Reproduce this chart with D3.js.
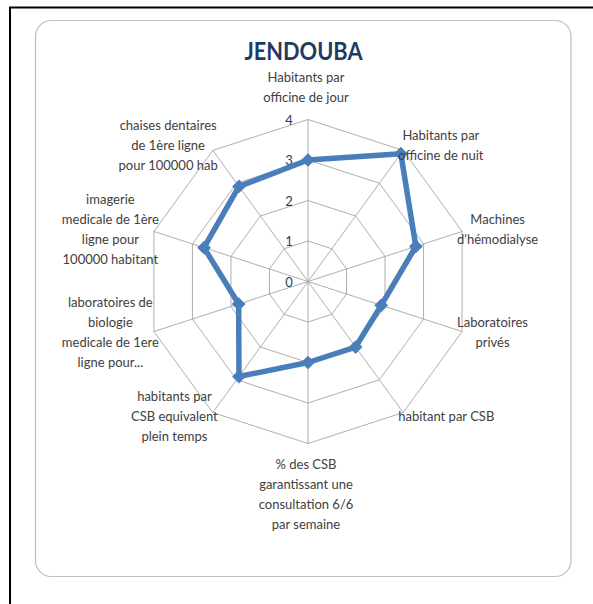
<!DOCTYPE html>
<html>
<head>
<meta charset="utf-8">
<script src="https://cdn.jsdelivr.net/npm/d3@7"></script>
<style>
  body { margin: 0; background: #fff; }
  svg { display: block; }
</style>
</head>
<body>
<svg id="chart"></svg>
<script>
// axes, clockwise from the top
var axisLabels = [
    ['Habitants par', 'officine de jour'],
    ['Habitants par', 'officine de nuit'],
    ['Machines', "d'hémodialyse"],
    ['Laboratoires', 'privés'],
    ['habitant par CSB'],
    ['% des CSB', 'garantissant une', 'consultation 6/6', 'par semaine'],
    ['habitants par', 'CSB equivalent', 'plein temps'],
    ['laboratoires de', 'biologie', 'medicale de 1ere', 'ligne pour...'],
    ['imagerie', 'medicale de 1ère', 'ligne pour', '100000 habitant'],
    ['chaises dentaires', 'de 1ère ligne', 'pour 100000 hab']
]
var values = [3, 3.9, 2.8, 1.9, 2, 2, 2.9, 1.8, 2.7, 2.9]
var ticks = [0, 1, 2, 3, 4]

var width = 593, height = 604
var cx = 308, cy = 281.5, radius = 162

var svg = d3.select('#chart').attr('width', width).attr('height', height)

// outer black frame (runs off the right and bottom edges)
svg.append('rect')
    .attr('x', 10).attr('y', 7.5)
    .attr('width', 620).attr('height', 640)
    .attr('fill', 'none')
    .attr('stroke', '#000')
    .attr('stroke-width', 2)

// chart area
svg.append('rect')
    .attr('x', 35.5).attr('y', 20.5)
    .attr('width', 535.5).attr('height', 556)
    .attr('rx', 16)
    .attr('fill', '#fff')
    .attr('stroke', '#bfbfbf')
    .attr('stroke-width', 1.2)

svg.append('text')
    .text('JENDOUBA')
    .attr('x', 303.5)
    .attr('y', 60)
    .attr('text-anchor', 'middle')
    .attr('font-family', 'Lato')
    .attr('font-weight', 'bold')
    .attr('font-size', '24px')
    .attr('textLength', 118)
    .attr('lengthAdjust', 'spacingAndGlyphs')
    .attr('fill', '#1f3b63')

var n = axisLabels.length
var angle = d3.scaleLinear().domain([0, n]).range([0, 2 * Math.PI])
var r = d3.scaleLinear().domain([0, 4]).range([0, radius])

function pt(i, v) {
    var a = angle(i)
    return [cx + r(v) * Math.sin(a), cy - r(v) * Math.cos(a)]
}

var g = svg.append('g')

// web grid
ticks.slice(1).forEach(function(t) {
    g.append('path')
        .attr('d', d3.line()(d3.range(n).map(function(i) { return pt(i, t) })) + 'Z')
        .attr('fill', 'none')
        .attr('stroke', '#a6a6a6')
        .attr('stroke-width', 0.9)
})

d3.range(n).forEach(function(i) {
    var p = pt(i, 4)
    g.append('line')
        .attr('x1', cx).attr('y1', cy)
        .attr('x2', p[0]).attr('y2', p[1])
        .attr('stroke', '#a6a6a6')
        .attr('stroke-width', 0.9)
})

// tick labels on the top axis
g.selectAll('.tick')
    .data(ticks)
    .enter().append('text')
    .attr('class', 'tick')
    .text(function(d) { return d })
    .attr('x', cx - 19)
    .attr('y', function(d) { return cy - r(d) + 5 })
    .attr('text-anchor', 'middle')
    .attr('font-family', 'Lato')
    .attr('font-size', '13px')
    .attr('fill', '#243f60')

// data series
g.append('path')
    .attr('d', d3.line()(values.map(function(v, i) { return pt(i, v) })) + 'Z')
    .attr('fill', 'none')
    .attr('stroke', '#4a7ebb')
    .attr('stroke-width', 5.5)
    .attr('stroke-linejoin', 'round')

g.selectAll('.marker')
    .data(values)
    .enter().append('path')
    .attr('class', 'marker')
    .attr('d', d3.symbol().type(d3.symbolDiamond2).size(120))
    .attr('transform', function(v, i) { var p = pt(i, v); return 'translate(' + p[0] + ',' + p[1] + ')' })
    .attr('fill', '#4a7ebb')

// axis labels
var lineH = 20
axisLabels.forEach(function(lines, i) {
    var a = angle(i)
    var p = pt(i, 4)
    var s = Math.sin(a), c = Math.cos(a)
    var t = g.append('text')
        .attr('font-family', 'Lato')
        .attr('font-size', '13px')
        .attr('fill', '#404040')
        .attr('text-anchor', 'middle')
    lines.forEach(function(l) { t.append('tspan').text(l) })
    var w = d3.max(t.selectAll('tspan').nodes(), function(node) { return node.getComputedTextLength() })
    var x, yTop
    var blockH = lines.length * lineH
    if (Math.abs(s) < 0.1) {
        x = p[0] - 2
        yTop = c > 0 ? p[1] - 12 - blockH : p[1] + 11
    } else {
        x = p[0] + Math.sign(s) * (w / 2 - 5)
        yTop = p[1] - 6 * c - blockH / 2
    }
    t.selectAll('tspan')
        .attr('x', x)
        .attr('y', function(d, j) { return yTop + j * lineH + 14 })
})
</script>
</body>
</html>
